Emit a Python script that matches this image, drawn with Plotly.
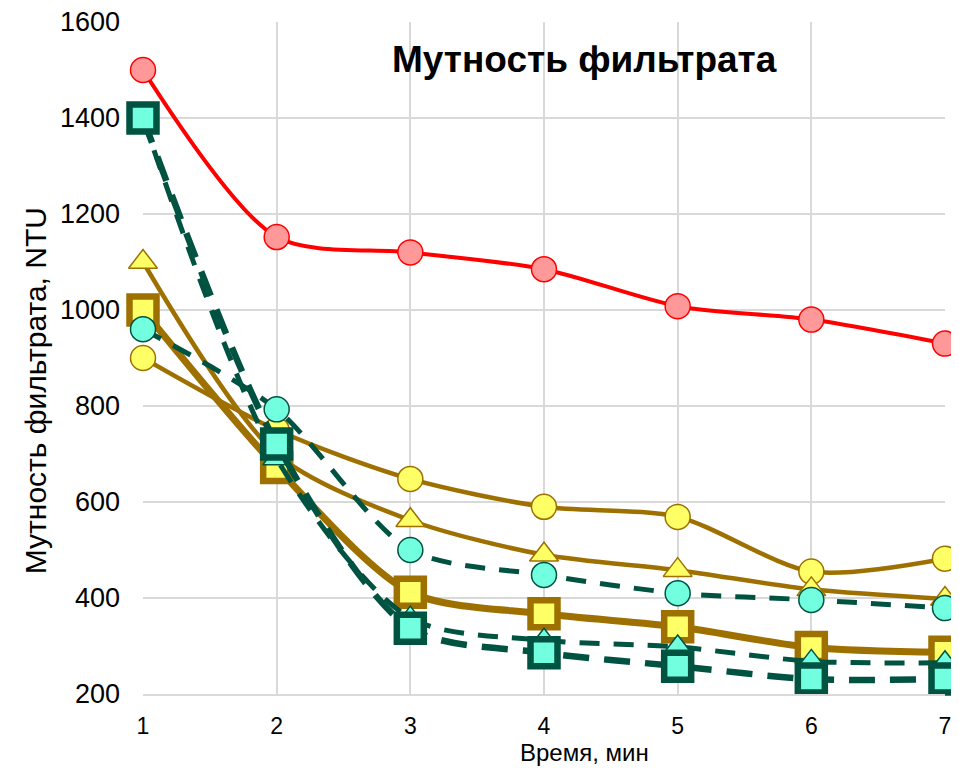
import plotly.graph_objects as go

x = [1, 2, 3, 4, 5, 6, 7]

red_circles = [1500, 1152, 1120, 1085, 1008, 980, 930]
yellow_circles = [900, 750, 648, 590, 569, 455, 482]
yellow_triangles = [1100, 700, 562, 490, 458, 418, 398]
yellow_squares = [1000, 672, 412, 367, 340, 297, 287]
cyan_circles = [960, 793, 500, 448, 410, 396, 379]
cyan_triangles = [1400, 690, 358, 312, 298, 268, 265]
cyan_squares = [1400, 721, 337, 286, 258, 231, 231]

y_ticks = [200, 400, 600, 800, 1000, 1200, 1400, 1600]

GOLD = "#9E7000"
YEL = "#FFFF66"
DG = "#005241"
CY = "#72FFE0"

series = [
    (red_circles, "#FF0000", 4, "solid", "circle", 25, "#FF9999", "#FF0000", 1.5),
    (yellow_circles, GOLD, 4.5, "solid", "circle", 25, YEL, GOLD, 1.5),
    (yellow_triangles, GOLD, 4.5, "solid", "triangle-up", 25, YEL, GOLD, 1.5),
    (yellow_squares, GOLD, 7, "solid", "square", 27, YEL, GOLD, 6.5),
    (cyan_circles, DG, 5, "20px,14px", "circle", 25, CY, DG, 1.5),
    (cyan_triangles, DG, 5, "20px,14px", "triangle-up", 24, CY, DG, 1.5),
    (cyan_squares, DG, 6.5, "26px,15px", "square", 27, CY, DG, 6.5),
]

fig = go.Figure()
for ys, lc, lw, dash, sym, ms, fc, mc, mw in series:
    fig.add_trace(go.Scatter(
        x=x, y=ys, mode="lines+markers",
        line=dict(color=lc, width=lw, dash=dash, shape="spline", smoothing=0.8),
        marker=dict(symbol=sym, size=ms, color=fc, line=dict(color=mc, width=mw)),
        cliponaxis=False, showlegend=False,
    ))

FONT = "Liberation Sans, Arial"
fig.add_annotation(
    x=0.551, y=0.944, xref="paper", yref="paper", text="<b>Мутность фильтрата</b>",
    showarrow=False, yanchor="middle", font=dict(size=37, color="black", family=FONT),
)
fig.add_annotation(
    x=0.55, y=-0.0875, xref="paper", yref="paper", text="Время, мин",
    showarrow=False, yanchor="middle", font=dict(size=24, color="black", family=FONT),
)
fig.add_annotation(
    x=-0.1347, y=0.452, xref="paper", yref="paper", text="Мутность фильтрата, NTU",
    textangle=-90, showarrow=False, xanchor="center", yanchor="middle",
    font=dict(size=30, color="black", family=FONT),
)

fig.update_layout(
    width=951, height=760,
    margin=dict(l=135, r=14, t=14, b=74, autoexpand=False),
    plot_bgcolor="white", paper_bgcolor="white",
    font=dict(family=FONT, size=26, color="black"),
)
fig.update_xaxes(
    range=[1, 7], tickvals=x, showgrid=True, gridcolor="#D9D9D9", gridwidth=2,
    showline=True, linecolor="#D9D9D9", linewidth=2, zeroline=False,
    ticks="", tickfont=dict(size=23), ticklabelstandoff=10,
    ticklabeloverflow="allow", automargin=False,
)
fig.update_yaxes(
    range=[200, 1600], tickvals=y_ticks,
    showgrid=True, gridcolor="#D9D9D9", gridwidth=2, zeroline=False,
    ticks="", tickfont=dict(size=27), ticklabelstandoff=22,
    ticklabeloverflow="allow", automargin=False,
)

fig.write_html("out.html")
